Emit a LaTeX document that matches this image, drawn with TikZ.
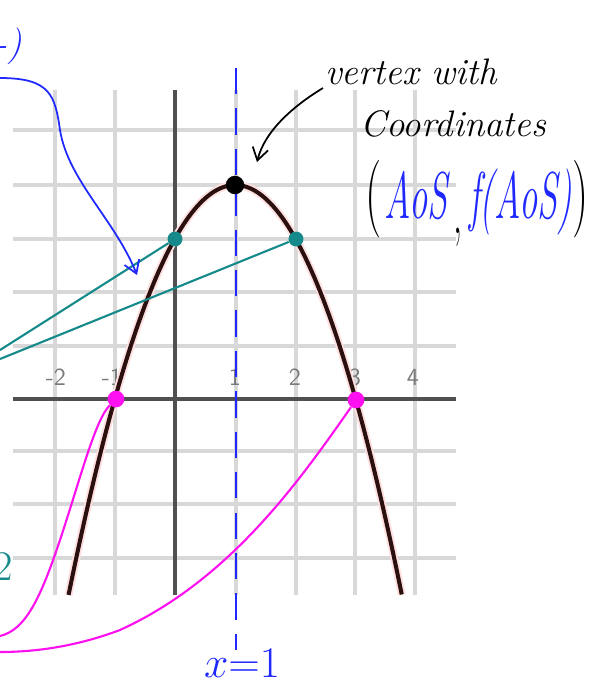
\documentclass[tikz,border=0pt]{standalone}
\usepackage{fontspec}
\usetikzlibrary{arrows.meta}
\definecolor{penblue}{HTML}{1E28FF}
\definecolor{penteal}{HTML}{168A8A}
\definecolor{penmag}{HTML}{FF10F0}
\definecolor{curvebrown}{HTML}{2B1010}
\definecolor{gridgray}{HTML}{D8D8D8}
\definecolor{axisgray}{HTML}{505050}
\definecolor{ticklabel}{HTML}{7A7A7A}
\tikzset{
  gridline/.style={gridgray, line width=2.1pt},
  axisline/.style={axisgray, line width=2.3pt},
  ticktext/.style={ticklabel, font=\sffamily\fontsize{14}{15}\selectfont, inner sep=0pt},
  hand/.style={font=\itshape\fontsize{21}{24}\selectfont, inner sep=0pt},
  dotnode/.style={circle, inner sep=0pt},
  tealline/.style={penteal, line width=1.2pt},
  magline/.style={penmag, line width=1.2pt},
  penarrow/.style={-{Straight Barb[length=7pt,width=9pt]}, line width=1pt},
}
\begin{document}
\begin{tikzpicture}[x=0.02cm,y=-0.02cm]
\useasboundingbox (0,0) rectangle (601,687);
\fill[white] (0,0) rectangle (601,687);
% grid
\foreach \gx in {55,115,236,296,355,415}
  \draw[gridline] (\gx,90) -- (\gx,595);
\foreach \gy in {130,185,239,292,346,451,504,558}
  \draw[gridline] (13,\gy) -- (456,\gy);
% axes
\draw[axisline] (13,399) -- (456,399);
\draw[axisline] (175,90) -- (175,595);
% tick labels
\node[ticktext] (tm2) at (56,377) {-2};
\node[ticktext] (tm1) at (112,377) {-1};
\node[ticktext] (t1) at (235,377) {1};
\node[ticktext] (t2) at (295,377) {2};
\node[ticktext] (t3) at (355,377) {3};
\node[ticktext] (t4) at (413,377) {4};
% parabola
\draw[red!12, line width=4.5pt] plot[domain=-1.768:3.768, samples=120] ({175+60.2*\x},{399-53.5*(-(\x)*(\x)+2*\x+3)});
\draw[curvebrown, line width=2.3pt] plot[domain=-1.768:3.768, samples=120] ({175+60.2*\x},{399-53.5*(-(\x)*(\x)+2*\x+3)});
% axis of symmetry
\coordinate (dtop) at (236,68);
\coordinate (dbot) at (236,650);
\draw[penblue, line width=1.2pt, dash pattern=on 15pt off 8pt] (dtop) -- (dbot);
\node[penblue, font=\itshape\fontsize{24}{26}\selectfont, inner sep=0pt] (xeq) at (242,663) {$x{=}1$};
% points
\node[dotnode, fill=black, minimum size=10.5pt] (vtx) at (235,185) {};
\node[dotnode, fill=penteal, minimum size=8.5pt] (tA) at (175,239) {};
\node[dotnode, fill=penteal, minimum size=8.5pt] (tB) at (296,239) {};
\node[dotnode, fill=penmag, minimum size=9.5pt] (mA) at (116,399) {};
\node[dotnode, fill=penmag, minimum size=9.5pt] (mB) at (356,400) {};
% teal connectors
\coordinate (tA0) at (0,350);
\coordinate (tB0) at (0,359);
\draw[tealline] (tA0) -- (tA);
\draw[tealline] (tB0) -- (tB);
% magenta connectors
\coordinate (mA0) at (0,636);
\coordinate (mB0) at (0,652);
\draw[magline] (mA) .. controls (95,420) and (80,480) .. (60,540) .. controls (40,600) and (25,630) .. (mA0);
\draw[magline] (mB) .. controls (300,480) and (230,580) .. (120,630) .. controls (80,645) and (40,652) .. (mB0);
% blue arrow from top-left
\coordinate (bl0) at (0,78);
\coordinate (bl1) at (137,275);
\draw[penblue, penarrow] (bl0) .. controls (50,78) and (55,95) .. (60,130) .. controls (68,180) and (115,220) .. (bl1);
\node[penblue, hand] (bltext) at (8,46) {-)};
% teal fragment
\node[penteal, hand, font=\fontsize{24}{26}\selectfont] (tealtext) at (3,567) {2};
% vertex annotation
\node[hand, anchor=west] (vtext) at (325,72) {vertex with};
\node[hand, anchor=west] (ctext) at (360,124) {Coordinates};
\node[inner sep=0pt] (aos) at (477,203) {\scalebox{1}[1.7]{\fontsize{26}{28}\selectfont(}\,\scalebox{0.8}[1.45]{\fontsize{26}{28}\selectfont{\color{penblue}\itshape AoS}\,\raisebox{-6pt}{,}\,{\color{penblue}\itshape f(AoS)}}\scalebox{1}[1.7]{\fontsize{26}{28}\selectfont)}};
\coordinate (va0) at (323,88);
\coordinate (va1) at (257,162);
\draw[black, penarrow] (va0) .. controls (295,105) and (265,130) .. (va1);
\end{tikzpicture}
\end{document}
